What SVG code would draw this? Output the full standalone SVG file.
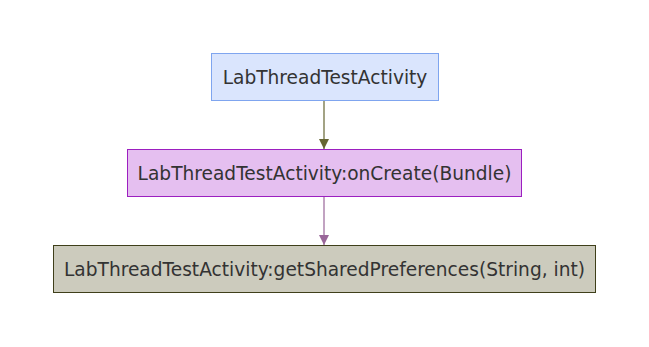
<svg xmlns="http://www.w3.org/2000/svg" width="649" height="347" viewBox="0 0 649 347">
  <style>
    .node rect { stroke-width: 1; }
    .node text { font-family: "DejaVu Sans", Verdana, sans-serif; font-size: 18.6px; fill: #333333; text-anchor: middle; dominant-baseline: central; }
    .edge { fill: none; stroke-width: 1.2; }
  </style>
  <defs>
    <marker id="arrowOlive" markerWidth="10" markerHeight="10" refX="10" refY="5" orient="auto" markerUnits="userSpaceOnUse">
      <path d="M0,0 L10,5 L0,10 Z" fill="#666633"/>
    </marker>
    <marker id="arrowPurple" markerWidth="10" markerHeight="10" refX="10" refY="5" orient="auto" markerUnits="userSpaceOnUse">
      <path d="M0,0 L10,5 L0,10 Z" fill="#996699"/>
    </marker>
  </defs>
  <rect width="649" height="347" fill="#ffffff"/>
  <g id="connectors">
    <line class="edge" x1="324" y1="101" x2="324" y2="149" stroke="#666633" marker-end="url(#arrowOlive)"/>
    <line class="edge" x1="324" y1="197" x2="324" y2="245" stroke="#996699" marker-end="url(#arrowPurple)"/>
  </g>
  <g id="activity" class="node">
    <rect x="211.5" y="53.5" width="227" height="47" fill="#dae5fd" stroke="#7fa5ef"/>
    <text x="325" y="77">LabThreadTestActivity</text>
  </g>
  <g id="onCreate" class="node">
    <rect x="127.5" y="149.5" width="394" height="47" fill="#e5bff0" stroke="#9c1fc0"/>
    <text x="324.5" y="173">LabThreadTestActivity:onCreate(Bundle)</text>
  </g>
  <g id="getSharedPreferences" class="node">
    <rect x="53.5" y="245.5" width="542" height="47" fill="#cccbbd" stroke="#3f3f1a"/>
    <text x="324.5" y="269">LabThreadTestActivity:getSharedPreferences(String, int)</text>
  </g>
</svg>
